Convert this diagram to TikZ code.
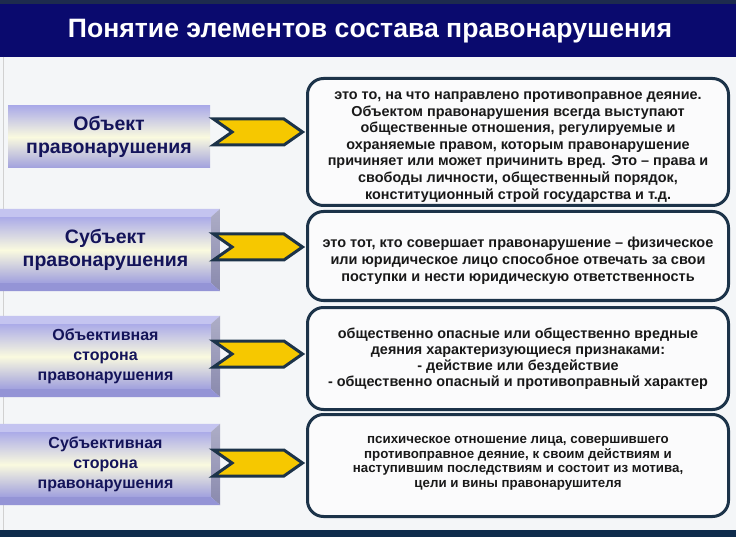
\documentclass[tikz,border=0pt]{standalone}
\usepackage{fontspec}
\setmainfont{Liberation Sans}
\usetikzlibrary{shapes.symbols}
\definecolor{navy}{HTML}{0A0A6E}
\definecolor{topstrip}{HTML}{1D2B4E}
\definecolor{footbar}{HTML}{0E2C4C}
\definecolor{paper}{HTML}{F4F6F8}
\definecolor{edge}{HTML}{1C3349}
\definecolor{gold}{HTML}{F6C800}
\definecolor{lavtop}{HTML}{ABABE8}
\definecolor{lavbot}{HTML}{A0A0DE}
\definecolor{cream}{HTML}{FAFADF}
\definecolor{termtext}{HTML}{14145A}
\definecolor{bevtop}{HTML}{C4C4F0}
\definecolor{bevside}{HTML}{8A8AAE}
\definecolor{bevbot}{HTML}{9494D6}
\begin{document}
\begin{tikzpicture}[x=1pt,y=-1pt,
		term/.style={inner sep=0pt, align=center, text=termtext,
			top color=lavtop, bottom color=lavbot, middle color=cream,
			font=\bfseries\fontsize{19.5}{23}\selectfont},
		smallterm/.style={term, font=\bfseries\fontsize{16}{20}\selectfont},
		defn/.style={draw=edge, line width=3pt, rounded corners=16pt, fill=white!60!paper,
			minimum width=421pt, inner sep=0pt},
		deftext/.style={align=center, inner sep=0pt, text=black!90,
			font=\bfseries\fontsize{14.4}{16.3}\selectfont},
		pointer/.style={shape=signal, signal from=west, signal to=east,
			signal pointer angle=70, draw=edge, line width=3pt, fill=gold,
			minimum width=89pt, minimum height=26pt, inner sep=0pt}
		]
	\useasboundingbox (0,0) rectangle (736,537);
	% slide background
	\fill[paper] (0,0) rectangle (736,537);
	\fill[topstrip] (0,0) rectangle (736,4);
	\fill[navy] (0,4) rectangle (736,57);
	\fill[footbar] (0,530) rectangle (736,537);
	\draw[black!18, line width=1pt] (3.5,57) -- (3.5,530);
	\node[text=white, font=\bfseries\fontsize{26.6}{30}\selectfont] (title) at (370,31)
		{Понятие элементов состава правонарушения};

	% left column
	\node[term, minimum width=202pt, minimum height=62pt] (obj) at (109,137)
		{Объект\\правонарушения};
	\node[term, minimum width=211pt, minimum height=66pt] (subj) at (105.5,250)
		{Субъект\\правонарушения};
	\node[smallterm, minimum width=211pt, minimum height=65pt] (objside) at (105.5,356.5)
		{Объективная\\сторона\\правонарушения};
	\node[smallterm, minimum width=211pt, minimum height=65pt] (subjside) at (105.5,464.5)
		{Субъективная\\сторона\\правонарушения};
	\foreach \f in {subj,objside,subjside} {
		\fill[bevtop] (\f.north west) -- ([yshift=8pt]\f.north west)
			-- ([xshift=9pt,yshift=8pt]\f.north east) -- (\f.north east) -- cycle;
		\shade[top color=bevside!70, bottom color=bevside] (\f.north east)
			-- ([xshift=9pt,yshift=8pt]\f.north east)
			-- ([xshift=9pt,yshift=-8pt]\f.south east) -- (\f.south east) -- cycle;
		\fill[bevbot] (\f.south west) -- (\f.south east)
			-- ([xshift=9pt,yshift=-8pt]\f.south east) -- ([yshift=-8pt]\f.south west) -- cycle;
	}

	% pointers
	\node[pointer] (p1) at (258,132) {};
	\node[pointer] (p2) at (258,247) {};
	\node[pointer] (p3) at (258,354) {};
	\node[pointer] (p4) at (258,463) {};

	% right column
	\node[defn, minimum height=127pt] (objdef) at (518,142) {};
	\node[deftext, font=\bfseries\fontsize{14.4}{16.6}\selectfont] (objtext)
		at ([yshift=-5pt]objdef.center)
		{это то, на что направлено противоправное деяние.\\
		Объектом правонарушения всегда выступают\\
		общественные отношения, регулируемые и\\
		охраняемые правом, которым правонарушение\\
		причиняет или может причинить вред. Это – права и\\
		свободы личности, общественный порядок,\\
		конституционный строй государства и т.д.};
	\node[defn, minimum height=89pt] (subjdef) at (518,256) {};
	\node[deftext, font=\bfseries\fontsize{14.5}{16.8}\selectfont] (subjtext)
		at ([yshift=-5pt]subjdef.center)
		{это тот, кто совершает правонарушение – физическое\\
		или юридическое лицо способное отвечать за свои\\
		поступки и нести юридическую ответственность};
	\node[defn, minimum height=102pt] (objsidedef) at (518,358.5) {};
	\node[deftext, font=\bfseries\fontsize{14.4}{16}\selectfont] (objsidetext)
		at (objsidedef.center)
		{общественно опасные или общественно вредные\\
		деяния характеризующиеся признаками:\\
		- действие или бездействие\\
		- общественно опасный и противоправный характер};
	\node[defn, minimum height=102pt] (subjsidedef) at (518,465.5) {};
	\node[deftext, font=\bfseries\fontsize{13.3}{14.5}\selectfont] (subjsidetext)
		at ([yshift=2pt]subjsidedef.center)
		{психическое отношение лица, совершившего\\
		противоправное деяние, к своим действиям и\\
		наступившим последствиям и состоит из мотива,\\
		цели и вины правонарушителя};
\end{tikzpicture}
\end{document}
